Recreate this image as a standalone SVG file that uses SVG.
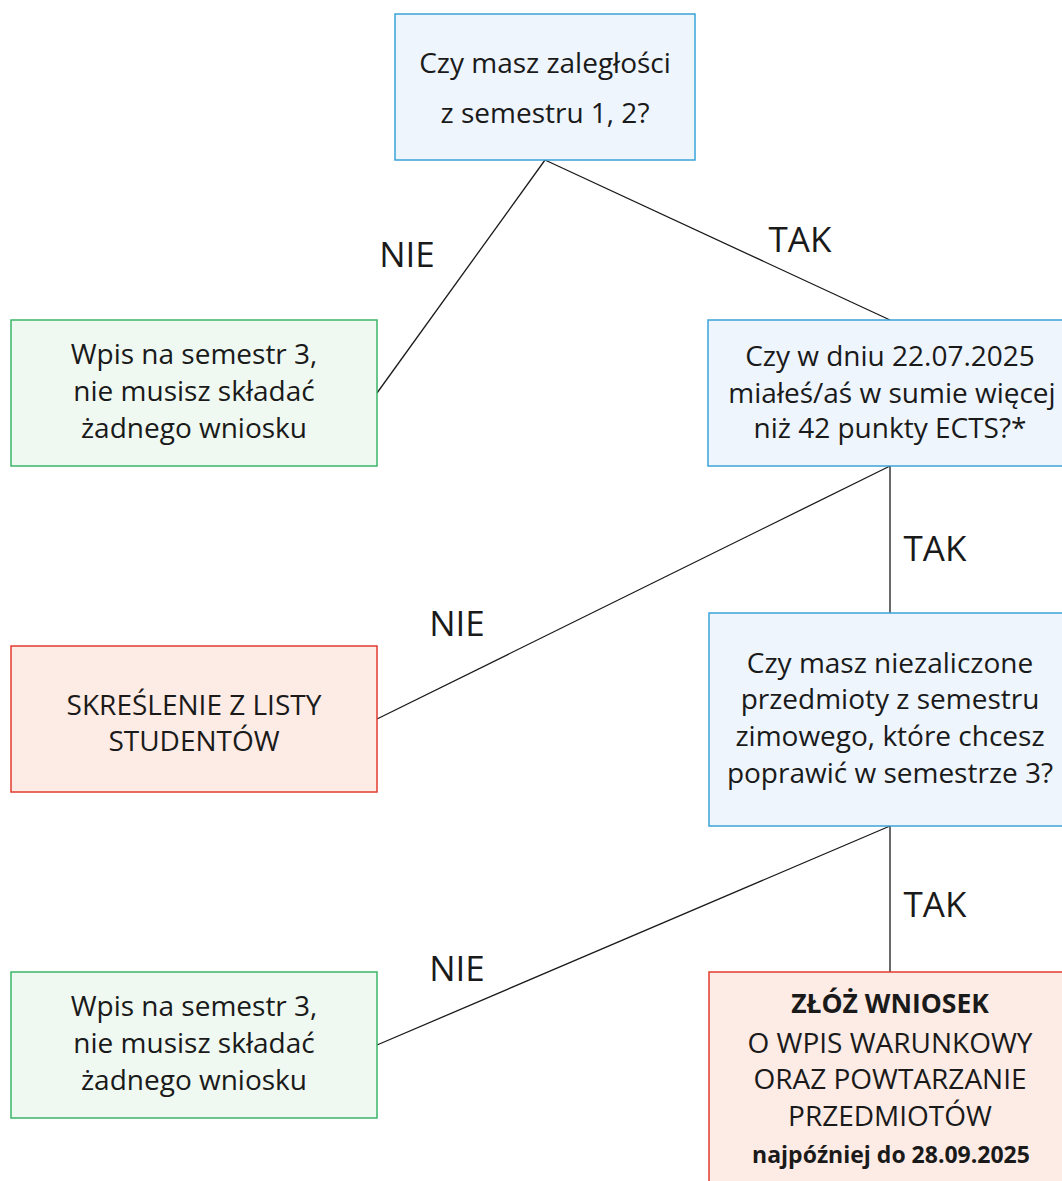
<svg xmlns="http://www.w3.org/2000/svg" width="1062" height="1181" viewBox="0 0 1062 1181">
<style>
.q{fill:#eef5fd;stroke:#3aa3d8;stroke-width:1.5}
.g{fill:#eff9f1;stroke:#3cb567;stroke-width:1.5}
.r{fill:#fdebe5;stroke:#e23b2e;stroke-width:1.5}
text{font-family:"Open Sans","Liberation Sans",sans-serif;font-size:28px;fill:#1a1a1a;text-anchor:middle}
.lbl{font-size:35px}
.b{font-weight:bold;font-size:26.5px}
.s{font-size:23px;font-weight:bold}
#connectors line{stroke:#1a1a1a;stroke-width:1.3}
</style>
<g id="connectors">
<line x1="545" y1="160" x2="377" y2="393"/>
<line x1="545" y1="160" x2="890" y2="320"/>
<line x1="890" y1="466" x2="377" y2="719"/>
<line x1="890" y1="466" x2="890" y2="613"/>
<line x1="890" y1="826" x2="377" y2="1045"/>
<line x1="890" y1="826" x2="890" y2="972"/>
<text class="lbl" x="407" y="267">NIE</text>
<text class="lbl" x="800" y="252">TAK</text>
<text class="lbl" x="457" y="636">NIE</text>
<text class="lbl" x="935" y="561">TAK</text>
<text class="lbl" x="457" y="981">NIE</text>
<text class="lbl" x="935" y="917">TAK</text>
</g>
<g id="n1"><rect class="q" x="395" y="14" width="300" height="146"/>
<text x="545" y="73">Czy masz zaległości</text><text x="545" y="123">z semestru 1, 2?</text></g>
<g id="n2"><rect class="g" x="11" y="320" width="366" height="146"/>
<text x="194" y="364">Wpis na semestr 3,</text><text x="194" y="401">nie musisz składać</text><text x="194" y="438">żadnego wniosku</text></g>
<g id="n3"><rect class="q" x="708" y="320" width="360" height="146"/>
<text x="890" y="366">Czy w dniu 22.07.2025</text><text x="892" y="403">miałeś/aś w sumie więcej</text><text x="890" y="438">niż 42 punkty ECTS?*</text></g>
<g id="n4"><rect class="r" x="11" y="646" width="366" height="146"/>
<text x="194" y="715">SKREŚLENIE Z LISTY</text><text x="194" y="751">STUDENTÓW</text></g>
<g id="n5"><rect class="q" x="709" y="613" width="360" height="213"/>
<text x="890" y="673">Czy masz niezaliczone</text><text x="890" y="709">przedmioty z semestru</text><text x="890" y="746">zimowego, które chcesz</text><text x="890" y="783">poprawić w semestrze 3?</text></g>
<g id="n6"><rect class="g" x="11" y="972" width="366" height="146"/>
<text x="194" y="1016">Wpis na semestr 3,</text><text x="194" y="1053">nie musisz składać</text><text x="194" y="1090">żadnego wniosku</text></g>
<g id="n7"><rect class="r" x="709" y="972" width="360" height="220"/>
<text class="b" x="890" y="1013">ZŁÓŻ WNIOSEK</text><text x="890" y="1053">O WPIS WARUNKOWY</text><text x="890" y="1089">ORAZ POWTARZANIE</text><text x="890" y="1126">PRZEDMIOTÓW</text><text class="s" x="891" y="1163">najpóźniej do 28.09.2025</text></g>
</svg>
